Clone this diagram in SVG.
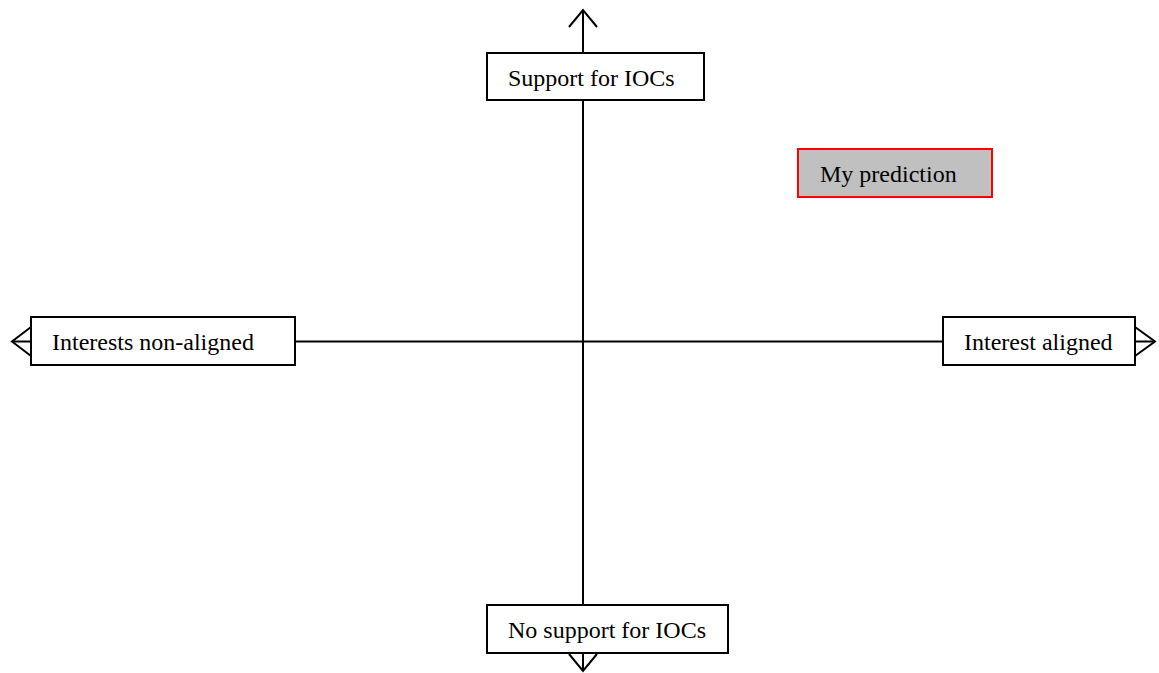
<svg xmlns="http://www.w3.org/2000/svg" width="1159" height="673" viewBox="0 0 1159 673">
  <style>
    .axis { stroke: #000; stroke-width: 2; fill: none; }
    .head { stroke: #000; stroke-width: 2; fill: none; stroke-linejoin: miter; }
    .box { fill: #fff; stroke: #000; stroke-width: 2; }
    .pred { fill: #c0c0c0; stroke: #ff0000; stroke-width: 2; }
    .lbl { font-family: "Liberation Serif", "Times New Roman", serif; font-size: 24px; fill: #000; }
  </style>
  <rect width="1159" height="673" fill="#fff"/>

  <!-- axes with open arrowheads -->
  <g id="connectors">
    <line class="axis" x1="583" y1="10" x2="583" y2="671"/>
    <line class="axis" x1="13" y1="341.5" x2="1154" y2="341.5"/>
    <polyline class="head" points="569,27 583,10 597,27"/>
    <polyline class="head" points="569,654 583,671 597,654"/>
    <polyline class="head" points="31,327 12,341.5 31,356"/>
    <polyline class="head" points="1135,327 1155,341.5 1135,356"/>
  </g>

  <g id="support">
    <rect class="box" x="487" y="53" width="217" height="47"/>
    <text class="lbl" x="508" y="86">Support for IOCs</text>
  </g>

  <g id="no-support">
    <rect class="box" x="487" y="605" width="241" height="48"/>
    <text class="lbl" x="508" y="638">No support for IOCs</text>
  </g>

  <g id="non-aligned">
    <rect class="box" x="31" y="317" width="264" height="48"/>
    <text class="lbl" x="52" y="350">Interests non-aligned</text>
  </g>

  <g id="aligned">
    <rect class="box" x="943" y="317" width="192" height="48"/>
    <text class="lbl" x="964" y="350">Interest aligned</text>
  </g>

  <g id="prediction">
    <rect class="pred" x="798" y="149" width="194" height="48"/>
    <text class="lbl" x="820" y="182">My prediction</text>
  </g>
</svg>
